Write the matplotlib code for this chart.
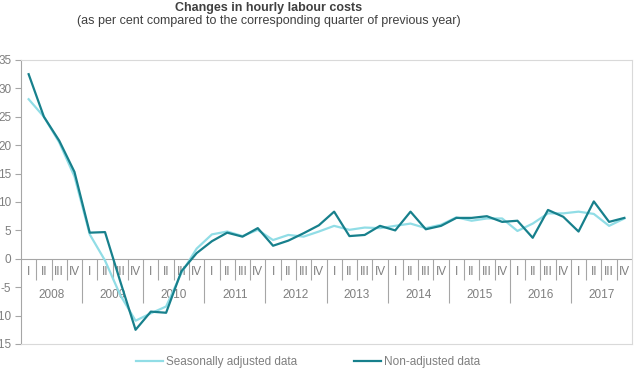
import matplotlib
matplotlib.use("Agg")
import matplotlib.pyplot as plt
import numpy as np

plt.rcParams['font.family'] = ['Liberation Sans', 'DejaVu Sans']
plt.rcParams['axes.unicode_minus'] = False

# data (% change vs same quarter of previous year)
years = ["2008", "2009", "2010", "2011", "2012", "2013", "2014", "2015", "2016", "2017"]
quarters = ["I", "II", "III", "IV"]

seasonally_adjusted = [28.1, 25.0, 20.5, 14.5,
                       4.3, -0.3, -6.4, -10.9,
                       -9.6, -8.4, -2.5, 1.8,
                       4.3, 4.8, 4.0, 5.1,
                       3.3, 4.2, 3.9, 4.8,
                       5.8, 5.1, 5.5, 5.4,
                       5.8, 6.2, 5.4, 6.0,
                       7.3, 6.7, 7.1, 7.1,
                       4.9, 6.2, 8.0, 8.0,
                       8.3, 7.9, 5.8, 7.1]

non_adjusted = [32.5, 25.0, 20.8, 15.3,
                4.6, 4.7, -4.0, -12.5,
                -9.3, -9.5, -2.2, 1.0,
                3.1, 4.6, 3.9, 5.4,
                2.3, 3.2, 4.5, 5.9,
                8.3, 4.0, 4.2, 5.8,
                5.0, 8.3, 5.2, 5.8,
                7.2, 7.2, 7.5, 6.5,
                6.7, 3.7, 8.6, 7.4,
                4.8, 10.1, 6.5, 7.2]

light_col = "#91dde6"
dark_col = "#17808c"
grid_col = "#a6a6a6"
text_col = "#7f7f7f"

fig = plt.figure(figsize=(6.34, 3.75), dpi=100)
ax = fig.add_axes([21/634, 1 - 344/375, 611/634, 284/375])

n = len(non_adjusted)
x = np.arange(n) + 0.5

ax.set_xlim(0, n)
ax.set_ylim(-15, 35)
ax.set_yticks(range(-15, 36, 5))
ax.set_xticks([])
ax.tick_params(axis='y', length=4, width=0.8, color=grid_col, pad=3,
               labelsize=8.5, labelcolor=text_col)

for side in ['top', 'right', 'bottom']:
    ax.spines[side].set_color("#d9d9d9")
    ax.spines[side].set_linewidth(0.8)
ax.spines['left'].set_color(grid_col)
ax.spines['left'].set_linewidth(0.8)

# category axis at zero
ax.axhline(0, color=grid_col, lw=0.8, zorder=1)
ticks_q = [k for k in range(1, n) if k % 4 != 0]
ticks_y = [k for k in range(4, n, 4)]
ax.vlines(ticks_q, -3.7, 0, color=grid_col, lw=0.8, zorder=1)
ax.vlines(ticks_y, -7.8, 0, color=grid_col, lw=0.8, zorder=1)

for i in range(n):
    ax.text(x[i], -2.3, quarters[i % 4], ha='center', va='center',
            fontsize=8.5, color=text_col, zorder=1)
for j, yr in enumerate(years):
    ax.text(j * 4 + 2, -6.4, yr, ha='center', va='center',
            fontsize=8.5, color=text_col, zorder=1)

ax.plot(x, seasonally_adjusted, color=light_col, lw=1.6,
        label="Seasonally adjusted data", zorder=3)
ax.plot(x, non_adjusted, color=dark_col, lw=1.6,
        label="Non-adjusted data", zorder=4)

fig.legend(loc='center', bbox_to_anchor=(308/634, 1 - 362/375), ncol=2,
           frameon=False, fontsize=8.5, labelcolor=text_col,
           handlelength=2.3, handletextpad=0.25, columnspacing=4.8)

fig.text(269/634, 1 - 8/375, "Changes in hourly labour costs", ha='center',
         va='center', fontsize=9, fontweight='bold', color="#404040")
fig.text(269/634, 1 - 21/375,
         "(as per cent compared to the corresponding quarter of previous year)",
         ha='center', va='center', fontsize=9, color="#404040")

fig.savefig("out.png", dpi=100)
